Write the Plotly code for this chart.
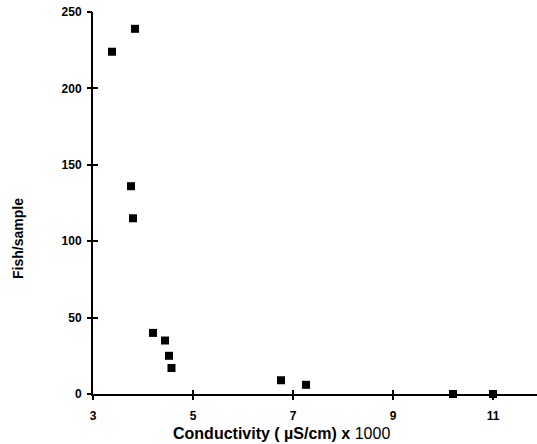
import plotly.graph_objects as go

conductivity = [3.38, 3.84, 3.76, 3.80, 4.20, 4.44, 4.52, 4.57, 6.76, 7.26, 10.2, 11.0]
fish_per_sample = [224, 239, 136, 115, 40, 35, 25, 17, 9, 6, 0, 0]

x_ticks = [3, 5, 7, 9, 11]
y_ticks = [0, 50, 100, 150, 200, 250]

x_title = "<b>Conductivity ( µS/cm) x</b> 1000"
y_title = "<b>Fish/sample</b>"

font = "Liberation Sans, Arial, sans-serif"

fig = go.Figure()
fig.add_trace(go.Scatter(
    x=conductivity, y=fish_per_sample, mode="markers", xaxis="x2", yaxis="y2",
    marker=dict(size=1, opacity=0), showlegend=False, hoverinfo="skip"))
fig.add_trace(go.Scatter(
    x=conductivity, y=fish_per_sample, mode="markers",
    marker=dict(symbol="square", size=8, color="black"),
    showlegend=False, cliponaxis=False))

xr = [3, 11.88]
yr = [0, 250]
fig.update_layout(
    width=537, height=444,
    margin=dict(l=93, r=0, t=12, b=50, autoexpand=False),
    paper_bgcolor="white", plot_bgcolor="white",
    font=dict(family=font, color="black"),
    xaxis=dict(range=xr, tickvals=x_ticks, showticklabels=False,
               showgrid=False, zeroline=False, showline=True, linecolor="black", linewidth=2,
               ticks="inside", ticklen=4, tickwidth=2, tickcolor="black", automargin=False),
    yaxis=dict(range=yr, tickvals=y_ticks, showticklabels=False,
               showgrid=False, zeroline=False, showline=True, linecolor="black", linewidth=2,
               ticks="inside", ticklen=5, tickwidth=2, tickcolor="black", automargin=False),
    xaxis2=dict(overlaying="x", range=xr, tickvals=x_ticks, ticktext=[f"<b>{v}</b>" for v in x_ticks],
                showgrid=False, zeroline=False, showline=False, ticks="outside", ticklen=5, tickwidth=2,
                tickcolor="black", side="bottom", anchor="y2", automargin=False,
                ticklabelstandoff=6, ticklabeloverflow="allow",
                tickfont=dict(size=12, family=font)),
    yaxis2=dict(overlaying="y", range=yr, tickvals=y_ticks, ticktext=[f"<b>{v}</b>" for v in y_ticks],
                showgrid=False, zeroline=False, showline=False, ticks="outside", ticklen=5, tickwidth=2,
                tickcolor="black", side="left", anchor="x2", automargin=False,
                ticklabelstandoff=3, ticklabeloverflow="allow",
                tickfont=dict(size=12, family=font)),
    annotations=[
        dict(text=x_title, xref="paper", yref="paper", x=0, y=0, xanchor="center", yanchor="middle",
             xshift=188, yshift=-39, showarrow=False, font=dict(size=16, family=font)),
        dict(text=y_title, xref="paper", yref="paper", x=0, y=0, xanchor="center", yanchor="middle",
             xshift=-75, yshift=155, textangle=-90, showarrow=False, font=dict(size=14, family=font)),
    ],
)

fig.write_html("out.html", config={"displayModeBar": False},
               post_script="document.body.style.margin='0';document.body.style.overflow='hidden';")
